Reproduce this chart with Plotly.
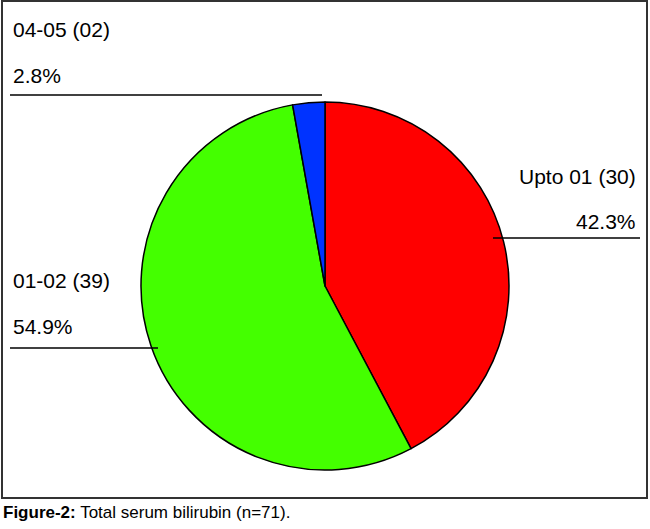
import plotly.graph_objects as go

categories = ["Upto 01", "01-02", "04-05"]
counts = [30, 39, 2]
count_labels = ["30", "39", "02"]
percent_labels = ["42.3%", "54.9%", "2.8%"]
colors = ["#FF0000", "#44FF00", "#0033FF"]

W, H = 650, 529
def px(x): return x / W
def py(y): return 1 - y / H

fig = go.Figure()
cx, cy, r = 325, 286, 184
fig.add_trace(go.Pie(
    labels=categories, values=counts, sort=False, direction="clockwise", rotation=0,
    marker=dict(colors=colors, line=dict(color="black", width=1.5)),
    textinfo="none", hoverinfo="label+value+percent", showlegend=False,
    domain=dict(x=[px(cx - r), px(cx + r)], y=[py(cy + r), py(cy - r)]),
))

font = dict(family="Liberation Sans, Arial, sans-serif", size=21, color="black")
ann = []
pos = {
    "Upto 01": (638, 176, 221, "right"),
    "01-02": (11, 280, 326, "left"),
    "04-05": (11, 30, 75, "left"),
}
for cat, cl, pl in zip(categories, count_labels, percent_labels):
    x, yn, yp, anc = pos[cat]
    for txt, yy in ((f"{cat} ({cl})", yn), (pl, yp)):
        ann.append(dict(x=px(x), y=py(yy), xref="paper", yref="paper", text=txt,
                        showarrow=False, xanchor=anc, yanchor="middle", font=font))

ann.append(dict(x=px(1), y=py(512), xref="paper", yref="paper",
                text="<b>Figure-2:</b> Total serum bilirubin (n=71).", showarrow=False,
                xanchor="left", yanchor="middle",
                font=dict(family="Liberation Sans Narrow, Liberation Sans, Arial, sans-serif",
                          size=17, color="black")))

shapes = [
    dict(type="rect", xref="paper", yref="paper", x0=px(2), x1=px(647), y0=py(498), y1=py(1),
         line=dict(color="#333333", width=2)),
    dict(type="line", xref="paper", yref="paper", x0=px(10), x1=px(322), y0=py(95), y1=py(95),
         line=dict(color="black", width=1.5)),
    dict(type="line", xref="paper", yref="paper", x0=px(493), x1=px(640), y0=py(238), y1=py(238),
         line=dict(color="black", width=1.5)),
    dict(type="line", xref="paper", yref="paper", x0=px(10), x1=px(158), y0=py(348), y1=py(348),
         line=dict(color="black", width=1.5)),
]

fig.update_layout(width=W, height=H, margin=dict(l=0, r=0, t=0, b=0),
                  paper_bgcolor="white", plot_bgcolor="white",
                  annotations=ann, shapes=shapes)
fig.write_html("out.html", config={"displayModeBar": False})

with open("out.html", "r", encoding="utf-8") as f:
    html = f.read()
html = html.replace("<body>", '<body style="margin:0;padding:0;overflow:hidden">', 1)
with open("out.html", "w", encoding="utf-8") as f:
    f.write(html)
